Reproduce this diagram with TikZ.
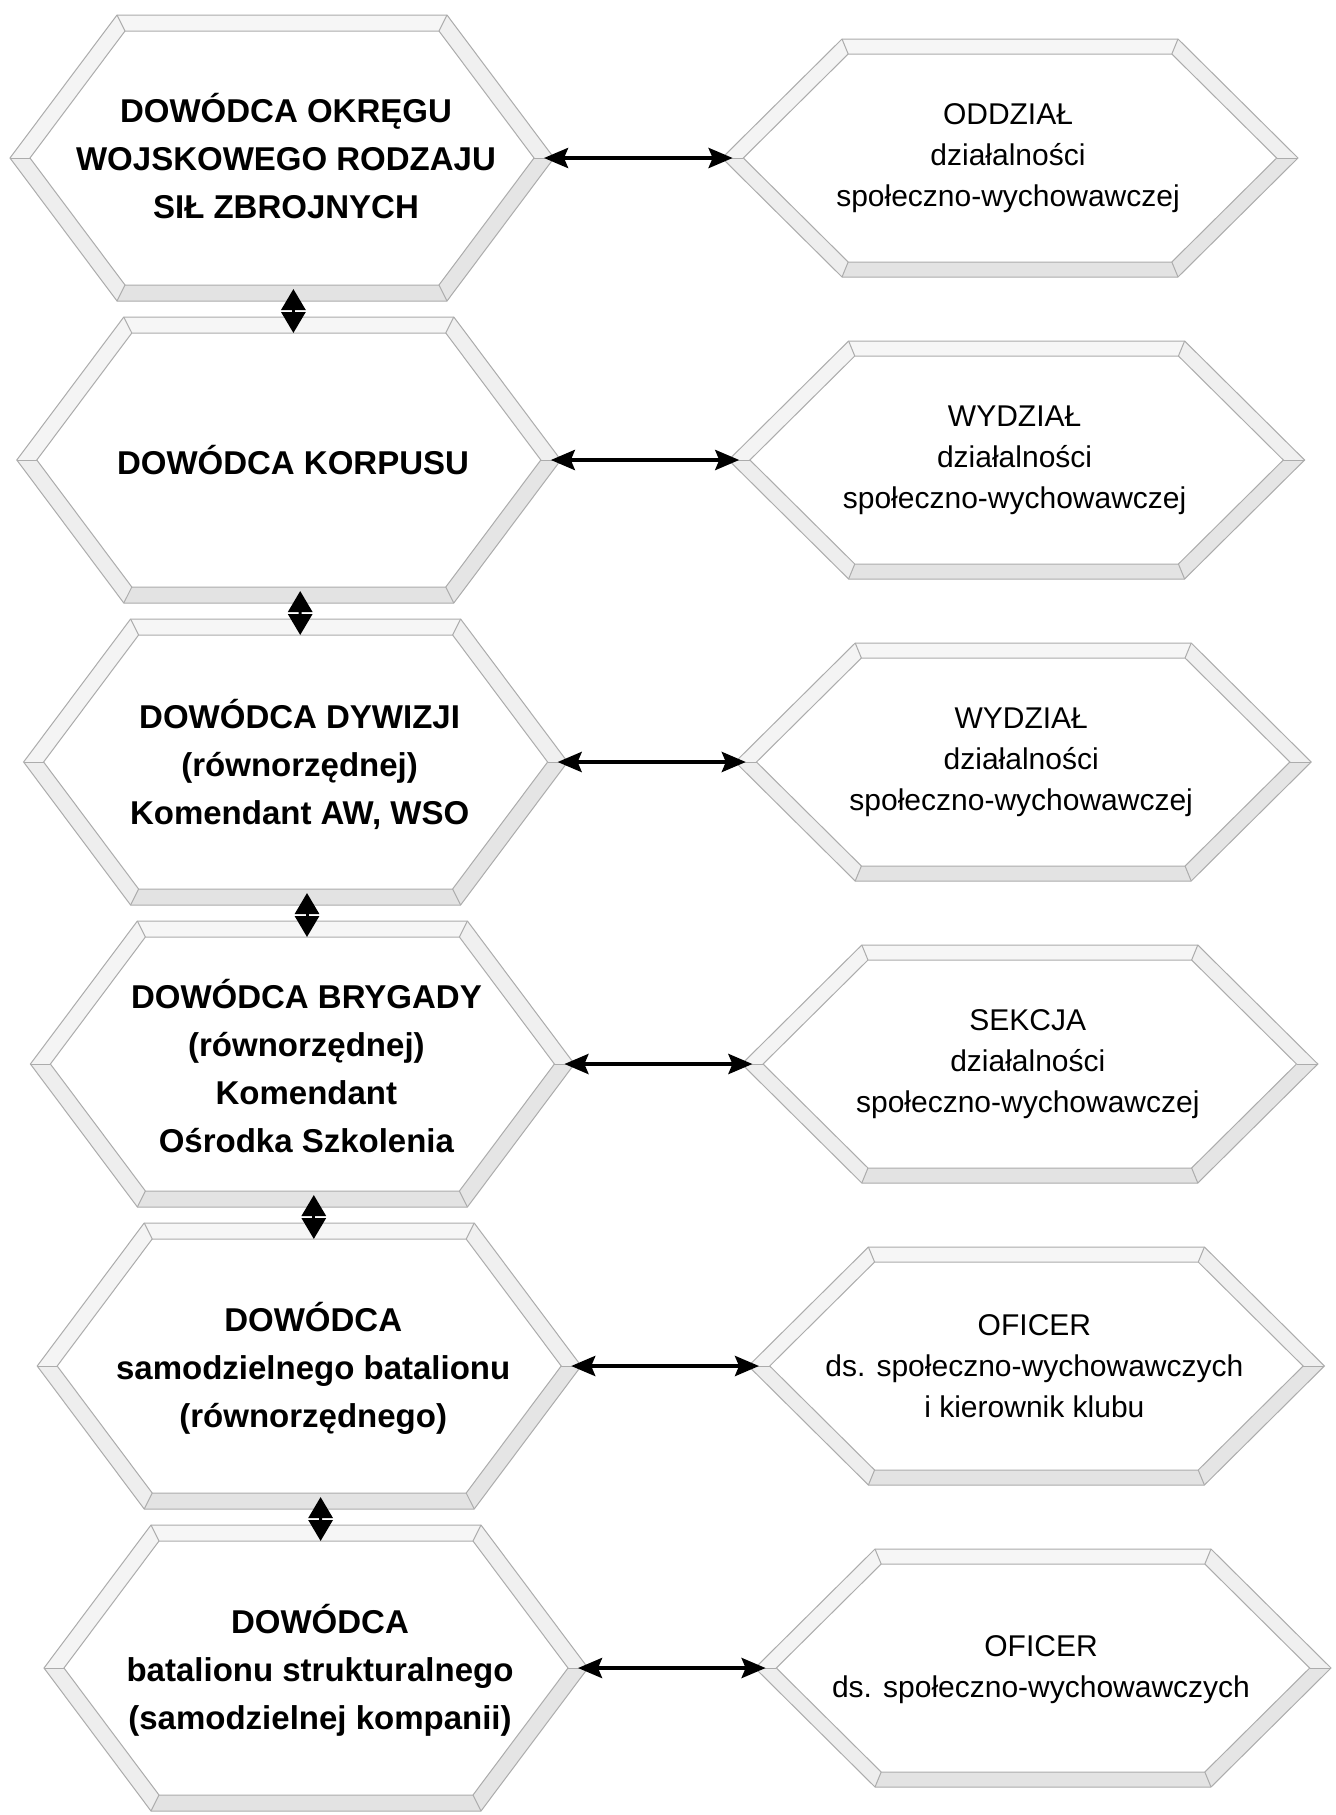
\documentclass[tikz,border=0pt]{standalone}
\usepackage{fontspec}
\setmainfont{Liberation Sans}
\usetikzlibrary{arrows.meta,calc}

\tikzset{
  bevel edge/.style={draw=gray!65,line width=0.5pt,line join=miter},
  bevel top/.style={fill=gray!7},
  bevel ul/.style={fill=gray!9},
  bevel ur/.style={fill=gray!12},
  bevel ll/.style={fill=gray!13},
  bevel lr/.style={fill=gray!20},
  bevel bot/.style={fill=gray!22},
  cmdtext/.style={align=center,inner sep=0pt,
    font=\fontsize{16.5pt}{24pt}\selectfont\bfseries},
  unittext/.style={align=center,inner sep=0pt,
    font=\fontsize{15pt}{20.5pt}\selectfont},
  link/.style={line width=2pt,
    {Stealth[length=12pt,width=10pt,inset=2pt]}-{Stealth[length=12pt,width=10pt,inset=2pt]}},
  chain/.style={line width=1.5pt,
    {Triangle[length=10.5pt,width=12pt]}-{Triangle[length=10.5pt,width=12pt]}},
}

% bevelled hexagonal frame: name, centre x, centre y, half width,
% half length of the flat edge, half height, bevel depth
\newcommand\hexframe[7]{%
  \pgfmathsetmacro\hxL{10*sqrt(((#4-#5)/10)^2+((#6)/10)^2)}%
  \pgfmathsetmacro\hxWi{#4-#7*\hxL/#6}%
  \pgfmathsetmacro\hxHi{#6-#7}%
  \pgfmathsetmacro\hxTi{\hxWi-(#4-#5)*\hxHi/#6}%
  \pgfmathsetmacro\hxWm{(#4+\hxWi)/2}%
  \coordinate (#1-o0) at ({#2+#4},{#3});
  \coordinate (#1-o1) at ({#2+#5},{#3-#6});
  \coordinate (#1-o2) at ({#2-#5},{#3-#6});
  \coordinate (#1-o3) at ({#2-#4},{#3});
  \coordinate (#1-o4) at ({#2-#5},{#3+#6});
  \coordinate (#1-o5) at ({#2+#5},{#3+#6});
  \coordinate (#1-i0) at ({#2+\hxWi},{#3});
  \coordinate (#1-i1) at ({#2+\hxTi},{#3-\hxHi});
  \coordinate (#1-i2) at ({#2-\hxTi},{#3-\hxHi});
  \coordinate (#1-i3) at ({#2-\hxWi},{#3});
  \coordinate (#1-i4) at ({#2-\hxTi},{#3+\hxHi});
  \coordinate (#1-i5) at ({#2+\hxTi},{#3+\hxHi});
  \coordinate (#1-e) at ({#2+\hxWm},{#3});
  \coordinate (#1-w) at ({#2-\hxWm},{#3});
  \coordinate (#1-n) at ({#2},{#3-#6});
  \coordinate (#1-s) at ({#2},{#3+#6});
  \fill[bevel ur]  (#1-o0)--(#1-o1)--(#1-i1)--(#1-i0)--cycle;
  \fill[bevel top] (#1-o1)--(#1-o2)--(#1-i2)--(#1-i1)--cycle;
  \fill[bevel ul]  (#1-o2)--(#1-o3)--(#1-i3)--(#1-i2)--cycle;
  \fill[bevel ll]  (#1-o3)--(#1-o4)--(#1-i4)--(#1-i3)--cycle;
  \fill[bevel bot] (#1-o4)--(#1-o5)--(#1-i5)--(#1-i4)--cycle;
  \fill[bevel lr]  (#1-o5)--(#1-o0)--(#1-i0)--(#1-i5)--cycle;
  \draw[bevel edge] (#1-o0)--(#1-o1)--(#1-o2)--(#1-o3)--(#1-o4)--(#1-o5)--cycle;
  \draw[bevel edge] (#1-i0)--(#1-i1)--(#1-i2)--(#1-i3)--(#1-i4)--(#1-i5)--cycle;
  \foreach \k in {0,...,5}{\draw[bevel edge] (#1-o\k)--(#1-i\k);}
}

\begin{document}
\begin{tikzpicture}[x=0.5pt,y=-0.5pt]
\useasboundingbox (0,0) rectangle (1336,1815);
\fill[white] (0,0) rectangle (1336,1815);

% command levels (left column)
\hexframe{L1}{282}{158}{272}{165}{143}{16}
\hexframe{L2}{288.8}{460}{272}{165}{143}{16}
\hexframe{L3}{295.6}{762}{272}{165}{143}{16}
\hexframe{L4}{302.4}{1064}{272}{165}{143}{16}
\hexframe{L5}{309.2}{1366}{272}{165}{143}{16}
\hexframe{L6}{316}{1668}{272}{165}{143}{16}

% educational units (right column)
\hexframe{R1}{1010}{158}{288}{168}{119}{15}
\hexframe{R2}{1016.6}{460}{288}{168}{119}{15}
\hexframe{R3}{1023.2}{762}{288}{168}{119}{15}
\hexframe{R4}{1029.8}{1064}{288}{168}{119}{15}
\hexframe{R5}{1036.4}{1366}{288}{168}{119}{15}
\hexframe{R6}{1043}{1668}{288}{168}{119}{15}

\node[cmdtext] (T1) at (286,156) {DOWÓDCA OKRĘGU\\WOJSKOWEGO RODZAJU\\SIŁ ZBROJNYCH};
\node[cmdtext] (T2) at (293,460) {DOWÓDCA KORPUSU};
\node[cmdtext] (T3) at (299.6,764) {DOWÓDCA DYWIZJI\\(równorzędnej)\\Komendant AW, WSO};
\node[cmdtext] (T4) at (306.4,1066) {DOWÓDCA BRYGADY\\(równorzędnej)\\Komendant\\Ośrodka Szkolenia};
\node[cmdtext] (T5) at (313.2,1368) {DOWÓDCA\\samodzielnego batalionu\\(równorzędnego)};
\node[cmdtext] (T6) at (320,1670) {DOWÓDCA\\batalionu strukturalnego\\(samodzielnej kompanii)};

\node[unittext] (U1) at (1008,158) {ODDZIAŁ\\działalności\\społeczno-wychowawczej};
\node[unittext] (U2) at (1014.6,460) {WYDZIAŁ\\działalności\\społeczno-wychowawczej};
\node[unittext] (U3) at (1021.2,762) {WYDZIAŁ\\działalności\\społeczno-wychowawczej};
\node[unittext] (U4) at (1027.8,1064) {SEKCJA\\działalności\\społeczno-wychowawczej};
\node[unittext] (U5) at (1034.4,1366) {OFICER\\ds. społeczno-wychowawczych\\i kierownik klubu};
\node[unittext] (U6) at (1041,1670) {OFICER\\ds. społeczno-wychowawczych};

% horizontal links between each level and its unit
\foreach \r in {1,...,6}{\draw[link] (L\r-e) -- (R\r-w);}

% vertical links between consecutive command levels
\foreach \a/\b in {1/2,2/3,3/4,4/5,5/6}{
  \draw[chain] ($(L\a-s)+(11.4,-12)$) -- ($(L\b-n)+(4.6,16)$);
}
\end{tikzpicture}
\end{document}
